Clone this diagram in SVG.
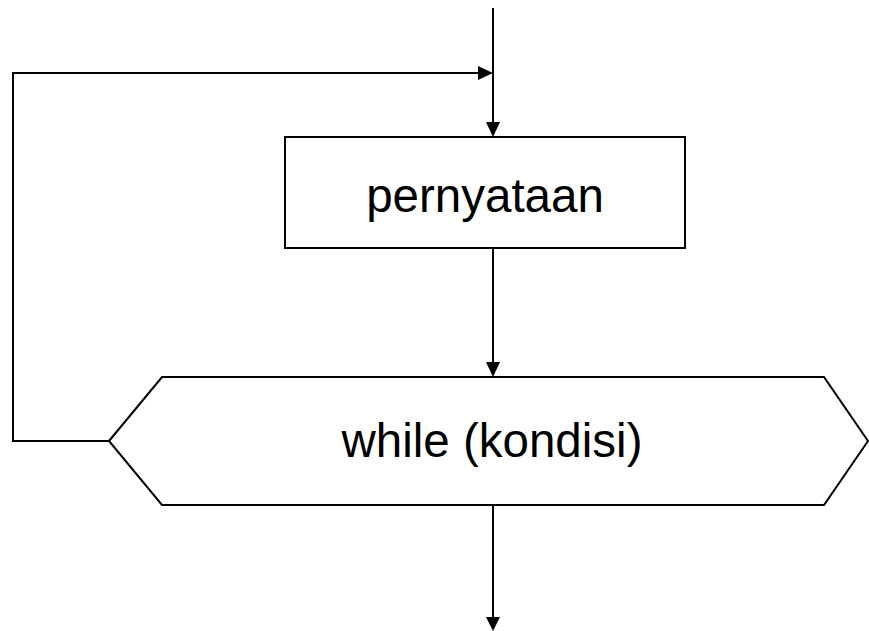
<svg xmlns="http://www.w3.org/2000/svg" width="869" height="631" viewBox="0 0 869 631">
<defs>
<style>
.shape{fill:#fff;stroke:#000;stroke-width:2}
.conn{fill:none;stroke:#000;stroke-width:2}
.label{font-family:"Liberation Sans",Arial,sans-serif;font-size:47.5px;fill:#000;text-anchor:middle}
</style>
</defs>
<rect width="869" height="631" fill="#fff"/>
<g id="connectors">
<line class="conn" x1="493" y1="8" x2="493" y2="123"/>
<path d="M486,122 L493,137 L500,122 Z" fill="#000"/>
<polyline class="conn" points="109,441 13,441 13,73 478,73"/>
<path d="M478,66 L493,73 L478,80 Z" fill="#000"/>
<line class="conn" x1="493" y1="248" x2="493" y2="362"/>
<path d="M486,362 L493,377 L500,362 Z" fill="#000"/>
<line class="conn" x1="493" y1="505" x2="493" y2="617"/>
<path d="M486,617 L493,631 L500,617 Z" fill="#000"/>
</g>
<g id="node-pernyataan">
<rect class="shape" x="285" y="137" width="400" height="111"/>
<text class="label" x="485" y="212">pernyataan</text>
</g>
<g id="node-while">
<polygon class="shape" points="109,441 162,377 824,377 868,441 824,505 162,505"/>
<text class="label" x="492" y="457">while (kondisi)</text>
</g>
</svg>
